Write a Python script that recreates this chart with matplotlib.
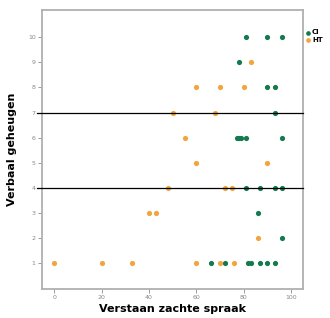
import matplotlib.pyplot as plt
import numpy as np

# Verstaan zachte spraak (x) vs Verbaal geheugen (y)
ci_x = [81, 90, 96, 78, 90, 93, 93, 77, 78, 79, 81, 96, 81, 87, 93, 96, 86, 96,
        66, 72, 82, 83, 87, 90, 93]
ci_y = [10, 10, 10, 9, 8, 8, 7, 6, 6, 6, 6, 6, 4, 4, 4, 4, 3, 2,
        1, 1, 1, 1, 1, 1, 1]
ht_x = [83, 60, 70, 80, 50, 68, 55, 60, 90, 48, 72, 75, 40, 43, 86,
        0, 20, 33, 60, 70, 76]
ht_y = [9, 8, 8, 8, 7, 7, 6, 5, 5, 4, 4, 4, 3, 3, 2,
        1, 1, 1, 1, 1, 1]
cutoffs = [7, 4]

ci_color = '#137a4e'
ht_color = '#f2a53a'
grey = '#9a9a9a'

fig = plt.figure(figsize=(3.3, 3.18), dpi=100)
ax = fig.add_axes([0.127, 0.091, 0.791, 0.878])

ax.scatter(ci_x, ci_y, s=14, color=ci_color, linewidths=0, label='CI', zorder=3)
ax.scatter(ht_x, ht_y, s=14, color=ht_color, linewidths=0, label='HT', zorder=3)

for c in cutoffs:
    ax.axhline(c, xmin=-0.02, xmax=1.0, color='black', linewidth=0.9, clip_on=False, zorder=4)

ax.set_xlim(-5.2, 105)
ax.set_ylim(-0.05, 11.1)
ax.set_xticks([0, 20, 40, 60, 80, 100])
ax.set_yticks(range(1, 11))

for sp in ax.spines.values():
    sp.set_color('#b0b0b0')
    sp.set_linewidth(1.3)

ax.tick_params(axis='both', direction='out', length=3, width=0.7, color=grey,
               labelsize=4.5, labelcolor='#888888', pad=1.5)

ax.set_xlabel('Verstaan zachte spraak', fontsize=8, fontweight='bold', labelpad=3)
ax.set_ylabel('Verbaal geheugen', fontsize=8, fontweight='bold', labelpad=8)

ax.legend(loc='upper left', bbox_to_anchor=(0.995, 0.94), frameon=False,
          handletextpad=0.1, borderaxespad=0, markerscale=0.9,
          labelspacing=0.25, handlelength=1.0, prop={'weight': 'bold', 'size': 5})

fig.savefig('out.png', dpi=100)
